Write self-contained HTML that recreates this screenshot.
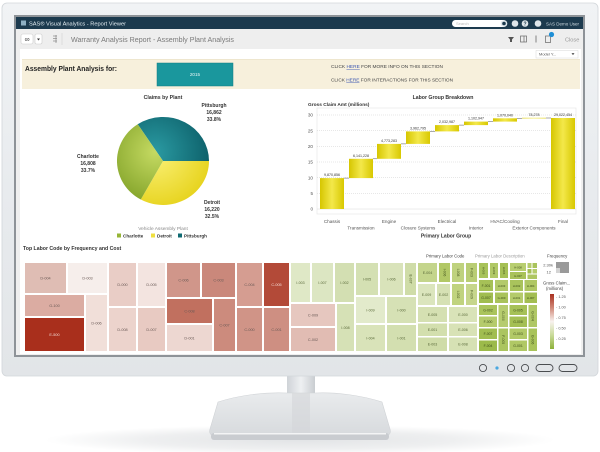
<!DOCTYPE html>
<html><head><meta charset="utf-8"><style>
html,body{margin:0;padding:0;background:#fff;width:600px;height:452px;overflow:hidden}
svg{display:block}
text{font-family:"Liberation Sans",Arial,sans-serif}
</style></head><body>
<svg width="600" height="452" viewBox="0 0 600 452" xmlns="http://www.w3.org/2000/svg">
<defs>
<linearGradient id="bez" x1="0" y1="0" x2="0" y2="1"><stop offset="0" stop-color="#f1f3f5"/><stop offset="0.5" stop-color="#e8ebee"/><stop offset="1" stop-color="#e2e5e8"/></linearGradient>
<linearGradient id="neck" x1="0" y1="0" x2="1" y2="0"><stop offset="0" stop-color="#cfd3d7"/><stop offset="0.5" stop-color="#eef0f2"/><stop offset="1" stop-color="#c9cdd1"/></linearGradient>
<linearGradient id="base" x1="0" y1="0" x2="0" y2="1"><stop offset="0" stop-color="#e9ebed"/><stop offset="1" stop-color="#d7dadd"/></linearGradient>
<radialGradient id="shadow" cx="0.5" cy="0.5" r="0.5"><stop offset="0" stop-color="#e2e4e6"/><stop offset="0.6" stop-color="#eeeff0"/><stop offset="1" stop-color="#ffffff"/></radialGradient>
<radialGradient id="gTeal" gradientUnits="userSpaceOnUse" cx="155" cy="152" r="60"><stop offset="0" stop-color="#2a9aa2"/><stop offset="1" stop-color="#0b5c66"/></radialGradient>
<radialGradient id="gYel" gradientUnits="userSpaceOnUse" cx="155" cy="152" r="60"><stop offset="0" stop-color="#fbf27a"/><stop offset="1" stop-color="#e6d21a"/></radialGradient>
<radialGradient id="gGrn" gradientUnits="userSpaceOnUse" cx="155" cy="152" r="60"><stop offset="0" stop-color="#c5da62"/><stop offset="1" stop-color="#7a9c22"/></radialGradient>
<linearGradient id="bar" x1="0" y1="0" x2="1" y2="0"><stop offset="0" stop-color="#d6c600"/><stop offset="0.5" stop-color="#f3e84a"/><stop offset="1" stop-color="#d8c800"/></linearGradient>
<linearGradient id="leg" x1="0" y1="0" x2="0" y2="1"><stop offset="0" stop-color="#a93020"/><stop offset="0.25" stop-color="#d08878"/><stop offset="0.5" stop-color="#f8f2ef"/><stop offset="0.75" stop-color="#c8da98"/><stop offset="1" stop-color="#8db03a"/></linearGradient>
</defs>

<!-- stand shadow -->
<ellipse cx="300" cy="440" rx="255" ry="15" fill="url(#shadow)"/>
<!-- neck -->
<rect x="287" y="372" width="28" height="30" fill="url(#neck)"/>
<!-- base -->
<path d="M218,402 C240,395 265,392 287,393 L315,393 C335,392 360,395 382,402 L390,429 Q392,435 385,436 L215,436 Q208,435 210,429 Z" fill="url(#base)" stroke="#d0d3d6" stroke-width="0.6"/>
<rect x="292" y="393" width="18" height="44" fill="#d3d6d9" opacity="0.6"/>
<rect x="211" y="433" width="178" height="7" rx="3" fill="#c9ccd0"/>
<rect x="214" y="433" width="172" height="1.5" fill="#f3f4f5"/>

<!-- monitor body -->
<rect x="2" y="3" width="596" height="373" rx="5" fill="url(#bez)" stroke="#d2d6da" stroke-width="0.8"/>
<rect x="14" y="15" width="571" height="342" fill="#8e9398"/>
<rect x="16" y="17" width="567" height="338" fill="#efefef"/>

<!-- buttons -->
<g fill="none" stroke="#4a4d50" stroke-width="0.9">
<circle cx="483" cy="368" r="3.6"/><circle cx="511" cy="368" r="3.6"/><circle cx="525" cy="368" r="3.6"/>
<rect x="536" y="364.5" width="17" height="7" rx="3.5"/><rect x="559" y="364.5" width="18" height="7" rx="3.5"/>
</g>
<circle cx="497" cy="368" r="1.6" fill="#4aa8e0"/>

<!-- dark title bar -->
<rect x="16" y="17" width="567" height="12" fill="#1c3a4e"/>
<rect x="21" y="20.5" width="5" height="5" fill="#8fb0c4"/>
<text x="29" y="25.4" font-size="5.4" fill="#e4edf2" textLength="97" lengthAdjust="spacingAndGlyphs">SAS® Visual Analytics - Report Viewer</text>
<rect x="452" y="20" width="55" height="7" rx="3.5" fill="#fff"/>
<text x="456" y="25" font-size="4" fill="#bbb">Search</text>
<circle cx="504" cy="23.5" r="3.3" fill="#dfe6ea"/><circle cx="504" cy="23.5" r="1.8" fill="#1c3a4e"/>
<circle cx="515" cy="23.5" r="3.3" fill="#dfe6ea"/><circle cx="525" cy="23.5" r="3.3" fill="#dfe6ea"/><circle cx="538" cy="23.5" r="3.3" fill="#dfe6ea"/>
<text x="525" y="25.5" font-size="5" fill="#1c3a4e" text-anchor="middle" font-weight="bold">?</text>
<text x="546" y="25.3" font-size="4.6" fill="#cfdbe2" textLength="33" lengthAdjust="spacingAndGlyphs">SAS Demo User</text>

<!-- toolbar -->
<rect x="16" y="29" width="567" height="20" fill="#eeeeee"/>
<rect x="21" y="34" width="12" height="10" rx="2" fill="#fff" stroke="#ccc" stroke-width="0.6"/>
<text x="27" y="41.5" font-size="7" fill="#333" text-anchor="middle">∞</text>
<rect x="35" y="34" width="7" height="10" rx="1.5" fill="#fff" stroke="#ccc" stroke-width="0.6"/>
<path d="M37,38.5 L40,38.5 L38.5,40.5 Z" fill="#333"/>
<g stroke="#888" stroke-width="0.7"><line x1="53" y1="36" x2="57" y2="36"/><line x1="53" y1="38.5" x2="57" y2="38.5"/><line x1="53" y1="41" x2="57" y2="41"/><line x1="56" y1="35" x2="56" y2="43"/></g>
<line x1="62" y1="33" x2="62" y2="45" stroke="#d0d0d0" stroke-width="0.6"/>
<text x="71" y="42" font-size="7" fill="#7a7a7a" textLength="163" lengthAdjust="spacingAndGlyphs">Warranty Analysis Report - Assembly Plant Analysis</text>
<path d="M508,37 L514,37 L512,39.5 L512,42 L510,42 L510,39.5 Z" fill="#555"/>
<rect x="520.5" y="36" width="6" height="6" fill="none" stroke="#666" stroke-width="0.7"/><line x1="524" y1="36" x2="524" y2="42" stroke="#666" stroke-width="0.7"/>
<line x1="536" y1="35.5" x2="536" y2="42.5" stroke="#666" stroke-width="0.8"/>
<rect x="545.5" y="36" width="5" height="6.5" fill="none" stroke="#666" stroke-width="0.7"/>
<circle cx="551.5" cy="34.5" r="2.6" fill="#1f8fd6"/>
<text x="565" y="41.5" font-size="5.6" fill="#999">Close</text>

<!-- content area -->
<rect x="20" y="49" width="561" height="305" fill="#ffffff"/>
<rect x="536" y="50.5" width="42" height="7.5" fill="#fff" stroke="#d8d8d8" stroke-width="0.5"/>
<text x="539" y="55.7" font-size="4" fill="#555">Model Y...</text>
<path d="M571.5,53.3 L574.5,53.3 L573,55 Z" fill="#333"/>

<!-- beige header band -->
<rect x="22" y="59" width="558" height="30" fill="#f7f0dc"/>
<line x1="22" y1="59.3" x2="580" y2="59.3" stroke="#e8dfc5" stroke-width="0.6"/>
<text x="25" y="71" font-size="7.5" font-weight="bold" fill="#222" textLength="92" lengthAdjust="spacingAndGlyphs">Assembly Plant Analysis for:</text>
<rect x="157" y="63" width="76" height="23" fill="#1a979d" stroke="#147c82" stroke-width="0.5"/>
<text x="195" y="76" font-size="4.6" fill="#e8f6f6" text-anchor="middle">2015</text>
<text x="331" y="68" font-size="4.5" fill="#444" textLength="112" lengthAdjust="spacingAndGlyphs">CLICK <tspan fill="#3a55b0" text-decoration="underline">HERE</tspan> FOR MORE INFO ON THIS SECTION</text>
<text x="331" y="81.5" font-size="4.5" fill="#444" textLength="122" lengthAdjust="spacingAndGlyphs">CLICK <tspan fill="#3a55b0" text-decoration="underline">HERE</tspan> FOR INTERACTIONS FOR THIS SECTION</text>

<!-- PIE -->
<text x="163" y="99" font-size="5.2" font-weight="bold" fill="#333" text-anchor="middle">Claims by Plant</text>
<path d="M163,161 L137.7,124.2 A46,44 0 0,1 209,161 Z" fill="url(#gTeal)"/>
<path d="M163,161 L209,161 A46,44 0 0,1 140.8,199.5 Z" fill="url(#gYel)"/>
<path d="M163,161 L140.8,199.5 A46,44 0 0,1 137.7,124.2 Z" fill="url(#gGrn)"/>
<g font-size="5" font-weight="bold" fill="#333" text-anchor="middle">
<text x="214" y="107">Pittsburgh</text><text x="214" y="114">16,862</text><text x="214" y="121">33.8%</text>
<text x="88" y="158">Charlotte</text><text x="88" y="165">16,808</text><text x="88" y="172">33.7%</text>
<text x="212" y="204">Detroit</text><text x="212" y="211">16,220</text><text x="212" y="218">32.5%</text>
</g>
<text x="163" y="230" font-size="4.8" fill="#8a8a8a" text-anchor="middle">Vehicle Assembly Plant</text>
<rect x="117" y="233.5" width="4" height="4" fill="#96b536"/>
<text x="123" y="237.3" font-size="4.6" font-weight="bold" fill="#333">Charlotte</text>
<rect x="151" y="233.5" width="4" height="4" fill="#f0e040"/>
<text x="157" y="237.3" font-size="4.6" font-weight="bold" fill="#333">Detroit</text>
<rect x="178" y="233.5" width="4" height="4" fill="#0f6a72"/>
<text x="184" y="237.3" font-size="4.6" font-weight="bold" fill="#333">Pittsburgh</text>

<!-- WATERFALL -->
<text x="443" y="99" font-size="5.2" font-weight="bold" fill="#333" text-anchor="middle">Labor Group Breakdown</text>
<text x="308" y="106" font-size="4.8" font-weight="bold" fill="#333">Gross Claim Amt (millions)</text>
<rect x="317" y="108" width="259" height="106" fill="none" stroke="#e4e4e4" stroke-width="0.6"/>
<g stroke="#cfcfcf" stroke-width="0.5" stroke-dasharray="1,1">
<line x1="317" y1="115" x2="576" y2="115"/><line x1="317" y1="130.7" x2="576" y2="130.7"/><line x1="317" y1="146.3" x2="576" y2="146.3"/><line x1="317" y1="162" x2="576" y2="162"/><line x1="317" y1="177.7" x2="576" y2="177.7"/><line x1="317" y1="193.3" x2="576" y2="193.3"/>
</g>
<line x1="317" y1="209" x2="576" y2="209" stroke="#d8d8d8" stroke-width="0.5"/>
<g font-size="4.6" fill="#555" text-anchor="end">
<text x="313" y="116.6">30</text><text x="313" y="132.3">25</text><text x="313" y="147.9">20</text><text x="313" y="163.6">15</text><text x="313" y="179.3">10</text><text x="313" y="194.9">5</text><text x="313" y="210.6">0</text>
</g>
<g fill="url(#bar)">
<rect x="320" y="178.1" width="24" height="30.9"/>
<rect x="349" y="158.8" width="24" height="19.3"/>
<rect x="377" y="143.9" width="24" height="14.9"/>
<rect x="406" y="131.4" width="24" height="12.5"/>
<rect x="435" y="125.1" width="24" height="6.3"/>
<rect x="464" y="121.6" width="24" height="3.5"/>
<rect x="493" y="118.3" width="24" height="3.3"/>
<rect x="522" y="117.8" width="24" height="0.6"/>
<rect x="551" y="118" width="24" height="91"/>
</g>
<g stroke="#555" stroke-width="0.5">
<line x1="344" y1="178.1" x2="349" y2="178.1"/><line x1="373" y1="158.8" x2="377" y2="158.8"/><line x1="401" y1="143.9" x2="406" y2="143.9"/><line x1="430" y1="131.4" x2="435" y2="131.4"/><line x1="459" y1="125.1" x2="464" y2="125.1"/><line x1="488" y1="121.6" x2="493" y2="121.6"/><line x1="517" y1="118.3" x2="522" y2="118.3"/><line x1="546" y1="118" x2="551" y2="118"/>
</g>
<g font-size="3.6" fill="#333" text-anchor="middle">
<text x="332" y="176">9,870,856</text><text x="361" y="156.8">6,141,228</text><text x="389" y="141.9">4,773,283</text><text x="418" y="129.4">3,962,795</text><text x="447" y="123.1">2,032,987</text><text x="476" y="119.6">1,102,947</text><text x="505" y="116.3">1,070,040</text><text x="534" y="116">78,278</text><text x="563" y="116">29,022,454</text>
</g>
<g font-size="4.6" fill="#555" text-anchor="middle">
<text x="332" y="223">Chassis</text><text x="389" y="223">Engine</text><text x="447" y="223">Electrical</text><text x="505" y="223">HVAC/Cooling</text><text x="563" y="223">Final</text>
<text x="361" y="229.5">Transmission</text><text x="418" y="229.5">Closure Systems</text><text x="476" y="229.5">Interior</text><text x="534" y="229.5">Exterior Components</text>
</g>
<text x="446" y="237.5" font-size="5" font-weight="bold" fill="#333" text-anchor="middle">Primary Labor Group</text>

<!-- TREEMAP -->
<text x="23" y="250" font-size="5.2" font-weight="bold" fill="#333">Top Labor Code by Frequency and Cost</text>
<g>
<rect x="25" y="263" width="41" height="30" fill="#dfbdb4"/>
<rect x="68" y="263" width="39" height="30" fill="#f6eeeb"/>
<rect x="25" y="295" width="59" height="21" fill="#dbaca2"/>
<rect x="25" y="318" width="59" height="33" fill="#a92f1c"/>
<rect x="86" y="295" width="21" height="56" fill="#f1dfd9"/>
<rect x="109" y="263" width="27" height="43" fill="#e9cdc6"/>
<rect x="109" y="308" width="27" height="43" fill="#ecd3cc"/>
<rect x="138" y="263" width="27" height="43" fill="#f3e4e0"/>
<rect x="138" y="308" width="27" height="43" fill="#e8cac2"/>
<rect x="167" y="263" width="33" height="34" fill="#d0968a"/>
<rect x="202" y="263" width="33" height="34" fill="#ca887b"/>
<rect x="167" y="299" width="45" height="24" fill="#c1705f"/>
<rect x="167" y="325" width="45" height="26" fill="#edd7d1"/>
<rect x="214" y="299" width="21" height="52" fill="#cc8b7d"/>
<rect x="237" y="263" width="25" height="43" fill="#d59d91"/>
<rect x="237" y="308" width="25" height="43" fill="#d09487"/>
<rect x="264" y="263" width="25" height="43" fill="#b34a38"/>
<rect x="264" y="308" width="25" height="43" fill="#ce8f82"/>
<rect x="291" y="263" width="19" height="39" fill="#dfe8c6"/>
<rect x="312" y="263" width="21" height="39" fill="#dce6c2"/>
<rect x="335" y="263" width="19" height="39" fill="#d3dfb2"/>
<rect x="291" y="304" width="44" height="22" fill="#e6c7bf"/>
<rect x="291" y="328" width="44" height="23" fill="#e1bcb3"/>
<rect x="337" y="304" width="17" height="47" fill="#d6e1b6"/>
<rect x="356" y="263" width="22" height="32" fill="#d4e0b3"/>
<rect x="380" y="263" width="23" height="32" fill="#d9e3ba"/>
<rect x="405" y="263" width="11" height="32" fill="#cfdca8"/>
<rect x="356" y="297" width="29" height="26" fill="#e2eacb"/>
<rect x="387" y="297" width="29" height="26" fill="#d6e1b5"/>
<rect x="356" y="325" width="29" height="26" fill="#d9e3b9"/>
<rect x="387" y="325" width="29" height="26" fill="#d3dfb0"/>
<rect x="418" y="263" width="19" height="19" fill="#c4d58c"/>
<rect x="439" y="263" width="11" height="19" fill="#b2c866"/>
<rect x="452" y="263" width="12" height="19" fill="#bfd27e"/>
<rect x="466" y="263" width="11" height="19" fill="#b9cd74"/>
<rect x="418" y="284" width="17" height="21" fill="#dbe5bd"/>
<rect x="437" y="284" width="13" height="21" fill="#d6e1b4"/>
<rect x="452" y="284" width="12" height="21" fill="#c0d37f"/>
<rect x="466" y="284" width="11" height="21" fill="#c6d68b"/>
<rect x="418" y="307" width="29" height="15" fill="#d5e0b2"/>
<rect x="449" y="307" width="28" height="15" fill="#d9e3b8"/>
<rect x="418" y="323.5" width="29" height="12.5" fill="#d3dfae"/>
<rect x="449" y="323.5" width="28" height="12.5" fill="#d8e2b6"/>
<rect x="418" y="337.5" width="29" height="13.5" fill="#cfdca8"/>
<rect x="449" y="337.5" width="28" height="13.5" fill="#d6e1b4"/>
<rect x="479" y="263" width="9" height="15" fill="#a8c35a"/>
<rect x="490" y="263" width="8" height="15" fill="#b0c866"/>
<rect x="500" y="263" width="8" height="15" fill="#a5c055"/>
<rect x="510" y="263" width="16" height="8" fill="#b8ce70"/>
<rect x="510" y="272" width="16" height="7" fill="#a9c25a"/>
<rect x="527.5" y="263" width="4" height="5" fill="#b5cc6c"/>
<rect x="532.5" y="263" width="4.5" height="5" fill="#a9c35c"/>
<rect x="527.5" y="269" width="4" height="4.5" fill="#a4bf54"/>
<rect x="532.5" y="269" width="4.5" height="4.5" fill="#b5cc6c"/>
<rect x="527.5" y="274.5" width="9.5" height="4.5" fill="#aec662"/>
<rect x="479" y="280" width="14" height="11" fill="#a6c157"/>
<rect x="495" y="280" width="13" height="11" fill="#b3ca6a"/>
<rect x="510" y="280" width="13" height="11" fill="#a9c35c"/>
<rect x="524.5" y="280" width="12.5" height="11" fill="#afc763"/>
<rect x="479" y="292.5" width="14" height="10.5" fill="#a0bd50"/>
<rect x="495" y="292.5" width="13" height="10.5" fill="#a9c35b"/>
<rect x="510" y="292.5" width="13" height="10.5" fill="#b4cb6b"/>
<rect x="524.5" y="292.5" width="12.5" height="10.5" fill="#a3be52"/>
<rect x="479" y="305" width="18" height="10" fill="#aac45c"/>
<rect x="498.5" y="305" width="9.5" height="22" fill="#b6cc6e"/>
<rect x="509.5" y="305" width="17.5" height="10" fill="#a6c157"/>
<rect x="528.5" y="305" width="8.5" height="22" fill="#afc764"/>
<rect x="479" y="316.5" width="18" height="10.5" fill="#b5cb6c"/>
<rect x="509.5" y="316.5" width="17.5" height="10.5" fill="#a4bf54"/>
<rect x="479" y="328.5" width="18" height="10.5" fill="#a1bd50"/>
<rect x="498.5" y="328.5" width="9.5" height="22.5" fill="#abc55f"/>
<rect x="509.5" y="328.5" width="17.5" height="10.5" fill="#b2c968"/>
<rect x="528.5" y="328.5" width="8.5" height="22.5" fill="#a8c35a"/>
<rect x="479" y="340.5" width="18" height="10.5" fill="#9cba4a"/>
<rect x="509.5" y="340.5" width="17.5" height="10.5" fill="#b0c865"/>
</g>
<g font-size="3.8" fill="#6a5a56" text-anchor="middle">
<text x="45.5" y="279.5">D-004</text><text x="87.5" y="279.5">D-003</text><text x="54.5" y="307">G-100</text>
<text x="54.5" y="336" fill="#f3dcd6">E-500</text><text x="96.5" y="324.5">D-006</text>
<text x="122.5" y="286">D-000</text><text x="122.5" y="331">D-008</text><text x="151.5" y="286">D-005</text><text x="151.5" y="331">D-007</text>
<text x="183.5" y="281.5">C-006</text><text x="218.5" y="281.5">C-003</text><text x="189.5" y="312.5">C-008</text><text x="189.5" y="339.5">D-001</text>
<text x="224.5" y="326.5">C-007</text><text x="249.5" y="286">C-004</text><text x="249.5" y="331">C-000</text>
<text x="276.5" y="286" fill="#f5dcd6">C-005</text><text x="276.5" y="331">C-001</text>
<text x="313" y="316.5">C-009</text><text x="313" y="341">C-002</text>
</g>
<g font-size="3.6" fill="#5a6a3a" text-anchor="middle">
<text x="300.5" y="284">I-003</text><text x="322.5" y="284">I-007</text><text x="344.5" y="284">I-002</text><text x="345.5" y="329">I-008</text>
<text x="367" y="280.5">I-005</text><text x="391.5" y="280.5">I-006</text>
<text x="370.5" y="311.5">I-009</text><text x="401.5" y="311.5">I-000</text><text x="370.5" y="339.5">I-004</text><text x="401.5" y="339.5">I-001</text>
<text x="427.5" y="274">E-004</text><text x="426.5" y="296">E-009</text><text x="443.5" y="296">E-002</text>
<text x="432.5" y="316">E-005</text><text x="463" y="316">E-000</text><text x="432.5" y="331">E-001</text><text x="463" y="331">E-006</text>
<text x="432.5" y="345.5">E-003</text><text x="463" y="345.5">E-008</text>
</g>
<g font-size="3.4" fill="#3d4d1a" text-anchor="middle">
<text transform="translate(410.5,279) rotate(90)" y="1.2">E-007</text>
<text transform="translate(444.5,272.5) rotate(90)" y="1.2">I-006</text>
<text transform="translate(458,272.5) rotate(90)" y="1.2">I-008</text>
<text transform="translate(471.5,272.5) rotate(90)" y="1.2">F-003</text>
<text transform="translate(458,294.5) rotate(90)" y="1.2">I-002</text>
<text transform="translate(471.5,294.5) rotate(90)" y="1.2">F-009</text>
<text transform="translate(483.5,270.5) rotate(90)" y="1.2" font-size="2.8">H-005</text>
<text transform="translate(494,270.5) rotate(90)" y="1.2" font-size="2.8">H-009</text>
<text transform="translate(504,270.5) rotate(90)" y="1.2" font-size="2.8">H-006</text>
<text x="518" y="268.5" font-size="2.8">H-008</text><text x="518" y="277" font-size="2.8">H-007</text>
<text x="486" y="287">F-001</text><text x="501.5" y="287" font-size="2.8">H-003</text><text x="516.5" y="287" font-size="2.8">H-002</text><text x="530.7" y="287" font-size="2.8">H-004</text>
<text x="486" y="299">G-007</text><text x="501.5" y="299" font-size="2.8">G-009</text><text x="516.5" y="299" font-size="2.8">H-001</text><text x="530.7" y="299" font-size="2.8">H-007</text>
<text x="488" y="311.3">G-002</text><text x="518" y="311.3">G-005</text>
<text x="488" y="323">F-000</text><text x="518" y="323">G-008</text>
<text x="488" y="335">F-007</text><text x="518" y="335">G-003</text>
<text x="488" y="347">F-004</text><text x="518" y="347">G-001</text>
<text transform="translate(503.2,316) rotate(90)" y="1.2">G-000</text>
<text transform="translate(532.7,316) rotate(90)" y="1.2">G-004</text>
<text transform="translate(503.2,339.7) rotate(90)" y="1.2">F-005</text>
<text transform="translate(532.7,339.7) rotate(90)" y="1.2">G-006</text>
</g>

<!-- treemap legend -->
<text x="426" y="257.5" font-size="4.3" fill="#444">Primary Labor Code</text>
<text x="475" y="257.5" font-size="4.3" fill="#9a9a9a">Primary Labor Description</text>
<text x="547" y="257.5" font-size="4.3" fill="#444">Frequency</text>
<text x="553" y="266.5" font-size="4" fill="#555" text-anchor="end">2.30k</text>
<text x="551" y="273.5" font-size="4" fill="#555" text-anchor="end">12</text>
<rect x="556" y="262" width="13" height="11" fill="#9a9a9a"/>
<rect x="556" y="268" width="4" height="5" fill="#d4d4d4"/>
<text x="543" y="284.5" font-size="4.3" fill="#444">Gross Claim...</text>
<text x="546" y="290" font-size="4.3" fill="#444">(millions)</text>
<rect x="550" y="294" width="4" height="55" fill="url(#leg)"/>
<g font-size="3.8" fill="#555">
<text x="556" y="298">- 1.25</text><text x="556" y="308.5">- 1.00</text><text x="556" y="319">- 0.75</text><text x="556" y="329.5">- 0.50</text><text x="556" y="340">- 0.25</text>
</g>
</svg>
</body></html>
